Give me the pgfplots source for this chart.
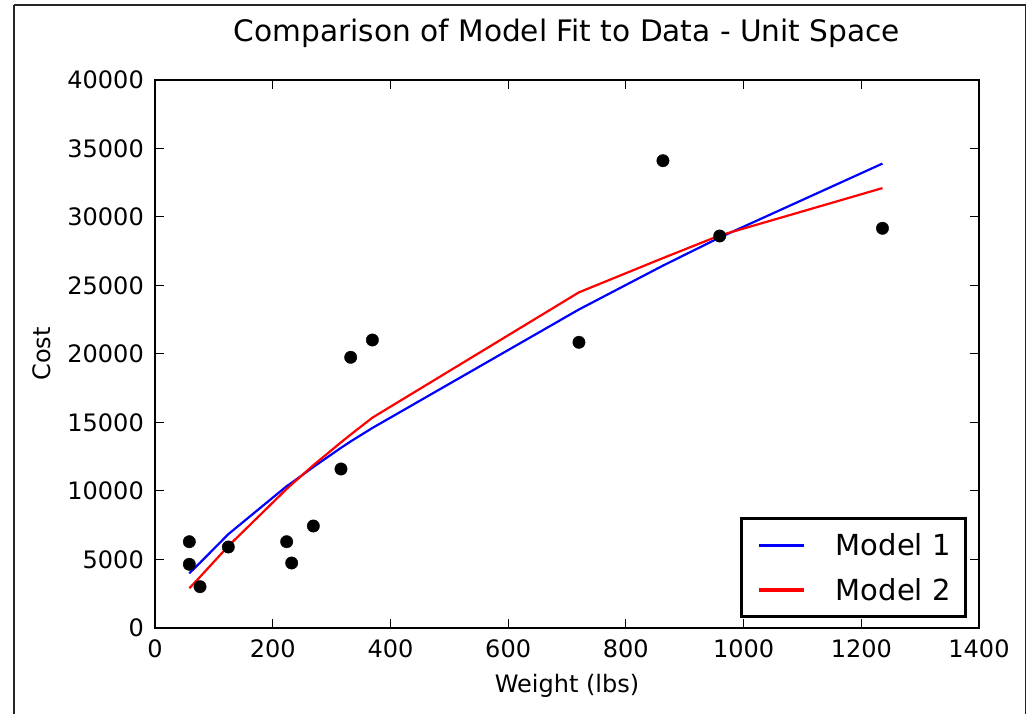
\documentclass[border=0pt]{standalone}
\usepackage{fontspec}
\setmainfont{DejaVu Sans}
\usepackage{pgfplots}
\pgfplotsset{compat=1.18}
\begin{document}
\begin{tikzpicture}[x=1pt,y=1pt]
\begin{axis}[
  at={(155pt,86pt)}, anchor=south west,
  scale only axis, width=824pt, height=548pt,
  xmin=0, xmax=1400, ymin=0, ymax=40000,
  xtick={0,200,...,1400}, ytick={0,5000,...,40000},
  scaled ticks=false,
  /pgf/number format/assume math mode=true,
  /pgf/number format/.cd, 1000 sep={}, /pgfplots/.cd,
  tick align=inside, tick pos=both,
  major tick length=9pt,
  every tick/.style={black, line width=1pt},
  axis line style={line width=2.6pt},
  tick label style={font=\fontsize{24}{29}\selectfont},
  xticklabel style={anchor=base, yshift=-30pt},
  yticklabel style={anchor=east, inner sep=0pt, xshift=-11pt},
  title={Comparison of Model Fit to Data - Unit Space},
  title style={at={(axis description cs:0.5,1.060)}, anchor=base, font=\fontsize{29.6}{35}\selectfont},
  xlabel={Weight (lbs)},
  xlabel style={at={(axis description cs:0.5,-0.1186)}, anchor=base, font=\fontsize{24}{29}\selectfont},
  ylabel={Cost},
  ylabel style={at={(axis description cs:-0.1274,0.5)}, anchor=base, rotate=0, font=\fontsize{24}{29}\selectfont},
  legend style={at={(axis description cs:0.9854,0.0182)}, anchor=south east,
    draw=black, line width=2.6pt, font=\fontsize{29}{35}\selectfont,
    inner xsep=12pt, inner ysep=12pt,
    nodes={inner sep=3pt},
    row sep=15pt},
  legend cell align=left,
  legend image code/.code={\path (-4pt,0pt); \draw[#1, line width=3.3pt] (0pt,0pt) -- (45pt,0pt); \path (73pt,0pt);},
]
\addplot[only marks, mark=*, mark size=6.2pt, black, forget plot] coordinates {
(58.3,6299) (58.3,4650) (76.5,3015) (124.6,5912) (223.7,6299) (232.2,4745)
(269,7445) (316,11606) (332.5,19759) (369.3,21022) (720.3,20854)
(863,34109) (959.4,28613) (1236,29175)
};
\addplot[blue, line width=2.2pt] coordinates {
(58.3,3990) (76.5,4760) (124.6,6850) (223.7,10350) (232.2,10600) (269,11750)
(316,13150) (332.5,13620) (369.3,14600) (720.3,23250) (863,26450)
(959.4,28500) (1236,33900)
};
\addlegendentry{Model 1}
\addplot[red, line width=2.2pt] coordinates {
(58.3,2900) (76.5,3730) (124.6,5980) (223.7,10150) (232.2,10480) (269,11880)
(316,13550) (332.5,14120) (369.3,15350) (720.3,24500) (863,27000)
(959.4,28650) (1236,32110)
};
\addlegendentry{Model 2}
\end{axis}
\draw[black!85, line width=1.6pt] (14,709) -- (14,-20);
\draw[black!85, line width=1.6pt] (14,709) -- (1025.5,709) -- (1025.5,-20);
\pgfresetboundingbox
\useasboundingbox (0,0) rectangle (1028,714);
\end{tikzpicture}
\end{document}
